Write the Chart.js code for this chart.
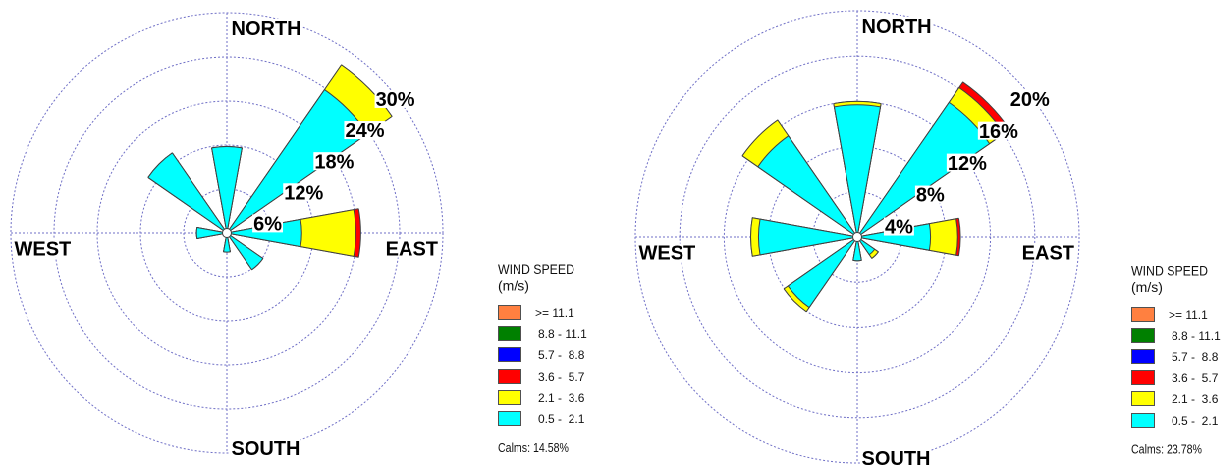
<!DOCTYPE html>
<html>
<head>
<meta charset="utf-8">
<script src="https://cdn.jsdelivr.net/npm/chart.js@4.4.0/dist/chart.umd.min.js"></script>
<style>
  html, body { margin: 0; padding: 0; background: #fff; overflow: hidden; width: 1230px; height: 468px; }
  #wrap { position: absolute; left: 0; top: 0; width: 1253px; height: 468px; transform: scaleX(0.982); transform-origin: 0 0; }
  canvas { position: absolute; top: 0; }
  #roseA { left: 0; width: 626px; height: 468px; }
  #roseB { left: 626px; width: 627px; height: 468px; }
</style>
</head>
<body>
<div id="wrap">
  <canvas id="roseA" width="626" height="468"></canvas>
  <canvas id="roseB" width="627" height="468"></canvas>
</div>
<script>
// 16 compass sectors, clockwise from north
const directions = ['N', 'NNE', 'NE', 'ENE', 'E', 'ESE', 'SE', 'SSE', 'S', 'SSW', 'SW', 'WSW', 'W', 'WNW', 'NW', 'NNW'];

// Frequency (%) per sector for each wind speed class - first rose
const roseA_0p5_2p1 = [11.8, 0, 23.8, 0, 10.4, 0, 6.1, 0, 2.6, 0, 0, 0, 4.2, 0, 13.3, 0];
const roseA_2p1_3p6 = [0, 0, 4.1, 0, 7.5, 0, 0, 0, 0, 0, 0, 0, 0, 0, 0, 0];
const roseA_3p6_5p7 = [0, 0, 0, 0, 0.7, 0, 0, 0, 0, 0, 0, 0, 0, 0, 0, 0];

// Frequency (%) per sector for each wind speed class - second rose
const roseB_0p5_2p1 = [11.7, 0, 14.5, 0, 6.6, 0, 1.9, 0, 2.1, 0, 7.6, 0, 8.9, 0, 10.9, 0];
const roseB_2p1_3p6 = [0.3, 0, 1.6, 0, 2.45, 0, 0.4, 0, 0, 0, 0.45, 0, 0.7, 0, 1.7, 0];
const roseB_3p6_5p7 = [0, 0, 0.6, 0, 0.25, 0, 0, 0, 0, 0, 0, 0, 0, 0, 0, 0];

// Ring (tick) values in percent
const roseA_rings = [6, 12, 18, 24, 30];
const roseB_rings = [4, 8, 12, 16, 20];

// Calm percentages
const roseA_calms = '14.58%';
const roseB_calms = '23.78%';

// Legend: wind speed classes (m/s), top to bottom
const speedClassLabels = ['>= 11.1', '8.8 - 11.1', '5.7 -  8.8', '3.6 -  5.7', '2.1 -  3.6', '0.5 -  2.1'];
const speedClassColors = ['#ff8040', '#008000', '#0000ff', '#ff0000', '#ffff00', '#00ffff'];

const compassLabels = ['NORTH', 'EAST', 'SOUTH', 'WEST'];

const BAR_DEG = 20.5;   // petal width
const GAP_DEG = 22.5 - BAR_DEG;
const GRID_COLOR = '#6f6fc6';
const OUTLINE = '#404040';
const FONT = '"Liberation Sans", Arial, Helvetica, sans-serif';

// each sector becomes a petal followed by an empty gap slot
function withGaps(values) {
  const out = [];
  values.forEach(v => { out.push(v); out.push(0); });
  return out;
}
function slotLabels() {
  const out = [];
  directions.forEach(d => { out.push(d); out.push(''); });
  return out;
}
// cumulative totals of the speed classes, inner class first
function stacked(layers) {
  let run = directions.map(() => 0);
  return layers.map(layer => {
    run = run.map((s, i) => s + layer[i]);
    return run.slice();
  });
}

function makeDatasets(layers, colors) {
  const cum = stacked(layers);
  // dataset 0 is painted last, so the innermost class sits on top
  return cum.map((vals, k) => ({
    data: withGaps(vals),
    backgroundColor: ctx => (ctx.dataIndex % 2 === 0 ? colors[k] : 'rgba(0,0,0,0)'),
    borderColor: OUTLINE,
    borderWidth: ctx => (ctx.dataIndex % 2 === 0 && ctx.raw > 0 ? 1 : 0),
    angle: ctx => (ctx.dataIndex % 2 === 0 ? BAR_DEG : GAP_DEG)
  }));
}

function textWithBackground(ctx, text, left, midY, capH) {
  const w = ctx.measureText(text).width;
  ctx.fillStyle = '#ffffff';
  ctx.fillRect(left - 1, midY - 9, w + 2, 18);
  ctx.fillStyle = '#000000';
  ctx.fillText(text, left, midY + capH / 2);
  return w;
}

const roseDecor = {
  id: 'roseDecor',
  beforeDatasetsDraw(chart, args, o) {
    const s = chart.scales.r, ctx = chart.ctx, R = s.drawingArea;
    const cx = s.xCenter, cy = s.yCenter;
    ctx.save();
    ctx.strokeStyle = GRID_COLOR;
    ctx.lineWidth = 1;
    ctx.setLineDash([2, 2]);
    ctx.beginPath();
    ctx.moveTo(cx, cy - R); ctx.lineTo(cx, cy + R);
    ctx.moveTo(cx - R, cy); ctx.lineTo(cx + R, cy);
    ctx.stroke();
    ctx.restore();
  },
  afterDatasetsDraw(chart, args, o) {
    const s = chart.scales.r, ctx = chart.ctx, R = s.drawingArea;
    const cx = s.xCenter, cy = s.yCenter;
    ctx.save();
    // calm circle
    ctx.beginPath();
    ctx.arc(cx, cy, 4.5, 0, Math.PI * 2);
    ctx.fillStyle = '#ffffff';
    ctx.fill();
    ctx.strokeStyle = OUTLINE;
    ctx.lineWidth = 1;
    ctx.stroke();

    // ring labels along the north-east diagonal
    ctx.font = 'bold 20px ' + FONT;
    ctx.textAlign = 'left';
    ctx.textBaseline = 'alphabetic';
    o.rings.forEach(v => {
      const r = s.getDistanceFromCenterForValue(v);
      const px = cx + r * Math.SQRT1_2;
      const py = cy - r * Math.SQRT1_2;
      textWithBackground(ctx, v + '%', px - 4, py + 21.5, 14.3);
    });

    // compass points
    const capH = 14.3;
    textWithBackground(ctx, compassLabels[0], cx + 4.5, cy - R + 15, capH);
    const wE = ctx.measureText(compassLabels[1]).width;
    textWithBackground(ctx, compassLabels[1], cx + R - 5 - wE, cy + 15.5, capH);
    textWithBackground(ctx, compassLabels[2], cx + 4.5, cy + R - 5, capH);
    textWithBackground(ctx, compassLabels[3], cx - R + 3.5, cy + 15.5, capH);
    ctx.restore();
  },
  afterDraw(chart, args, o) {
    const ctx = chart.ctx;
    const x = o.legendX, t = o.legendY;
    ctx.save();
    ctx.fillStyle = '#111111';
    ctx.textAlign = 'left';
    ctx.textBaseline = 'alphabetic';
    ctx.font = '14px ' + FONT;
    ctx.fillText('WIND SPEED', x, t + 5.2, 78);
    ctx.fillText('(m/s)', x, t + 21.3);
    ctx.font = '12px ' + FONT;
    speedClassLabels.forEach((lab, i) => {
      const top = Math.round(t + 36 + i * 21.2);
      ctx.fillStyle = speedClassColors[i];
      ctx.fillRect(x, top, 24, 15);
      ctx.strokeStyle = '#505050';
      ctx.lineWidth = 1;
      ctx.strokeRect(x + 0.5, top + 0.5, 23, 14);
      ctx.fillStyle = '#111111';
      ctx.fillText(lab, i === 0 ? x + 38 : x + 41, top + 7.5 + 4.3);
    });
    ctx.font = '13px ' + FONT;
    ctx.fillText('Calms: ' + o.calms, x, t + 183, 72);
    ctx.restore();
  }
};

function buildRose(canvasId, layers, rings, calms, padding, legendX, legendY) {
  return new Chart(document.getElementById(canvasId), {
    type: 'polarArea',
    data: {
      labels: slotLabels(),
      datasets: makeDatasets(layers, ['#00ffff', '#ffff00', '#ff0000'])
    },
    options: {
      responsive: false,
      animation: false,
      devicePixelRatio: 2,
      layout: { padding },
      scales: {
        r: {
          min: 0,
          max: rings[rings.length - 1],
          startAngle: -BAR_DEG / 2,
          ticks: { display: false, stepSize: rings[0] },
          grid: { circular: true, color: GRID_COLOR, lineWidth: 1, borderDash: [2, 2] },
          border: { dash: [2, 2] },
          angleLines: { display: false },
          pointLabels: { display: false }
        }
      },
      plugins: {
        legend: { display: false },
        tooltip: { enabled: false },
        roseDecor: { rings, calms, legendX, legendY }
      }
    },
    plugins: [roseDecor]
  });
}

buildRose('roseA', [roseA_0p5_2p1, roseA_2p1_3p6, roseA_3p6_5p7], roseA_rings, roseA_calms,
  { left: 11, top: 13, right: 175, bottom: 15 }, 507, 269);
buildRose('roseB', [roseB_0p5_2p1, roseB_2p1_3p6, roseB_3p6_5p7], roseB_rings, roseB_calms,
  { left: 21, top: 11, right: 154, bottom: 5 }, 526, 270.5);
</script>
</body>
</html>
